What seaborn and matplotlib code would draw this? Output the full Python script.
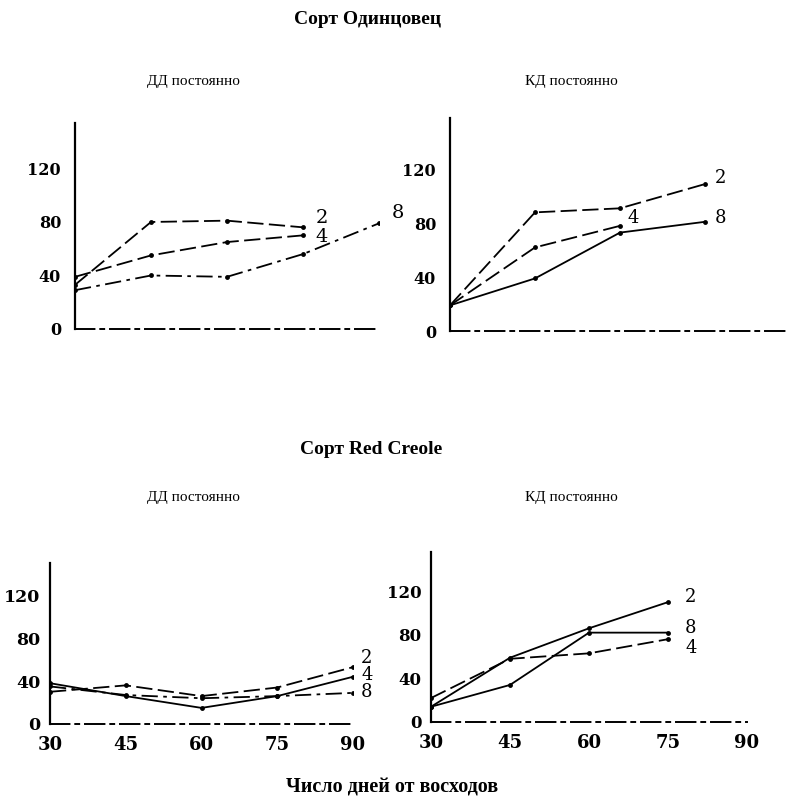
import matplotlib
matplotlib.use("Agg")
import matplotlib.pyplot as plt
import seaborn as sns
import pandas as pd
from matplotlib.ticker import MultipleLocator

# ---- data ----
days = [30, 45, 60, 75, 90]

odn_dd_2 = [33, 80, 81, 76]
odn_dd_4 = [39, 55, 65, 70]
odn_dd_8 = [29, 40, 39, 56, 79]

odn_kd_2 = [19, 88, 91, 109]
odn_kd_4 = [19, 62, 78]
odn_kd_8 = [19, 39, 73, 81]

rc_dd_2 = [30, 36, 26, 34, 53]
rc_dd_4 = [38, 26, 15, 26, 44]
rc_dd_8 = [35, 27, 24, 26, 29]

rc_kd_2 = [14, 59, 86, 110]
rc_kd_4 = [22, 58, 63, 76]
rc_kd_8 = [14, 34, 82, 82]

series_names = ["2", "4", "8"]
ytick_vals = [0, 40, 80, 120]

sns.set_theme(style="white")
plt.rcParams["font.family"] = ["Liberation Serif", "DejaVu Serif"]
plt.rcParams["text.color"] = "black"
plt.rcParams["xtick.color"] = "black"
plt.rcParams["ytick.color"] = "black"

TICKFONT = "DejaVu Serif"

W, H = 790, 797
fig = plt.figure(figsize=(W / 100, H / 100), dpi=100)


def make_ax(x0, x1, y_bottom, y_top, xlim, ylim):
    ax = fig.add_axes([x0 / W, 1 - y_bottom / H, (x1 - x0) / W, (y_bottom - y_top) / H])
    ax.set_xlim(*xlim)
    ax.set_ylim(*ylim)
    ax.set_facecolor("none")
    for s in ["top", "right"]:
        ax.spines[s].set_visible(False)
    ax.spines["left"].set_color("black")
    ax.spines["left"].set_linewidth(1.6)
    ax.spines["bottom"].set_color("black")
    ax.spines["bottom"].set_linewidth(1.4)
    ax.spines["bottom"].set_linestyle((0, (10, 3, 2, 3)))
    ax.set_yticks(ytick_vals)
    ax.yaxis.set_minor_locator(MultipleLocator(20))
    ax.set_xticks(days)
    ax.tick_params(axis="both", which="major", direction="inout", length=8,
                   width=1.2, color="black")
    ax.tick_params(axis="y", which="minor", direction="inout", length=4,
                   width=1.0, color="black")
    ax.set_xlabel("")
    ax.set_ylabel("")
    return ax


def draw(ax, vals, style, label, offset, fs):
    df = pd.DataFrame({"day": days[:len(vals)], "val": vals})
    sns.lineplot(data=df, x="day", y="val", ax=ax, color="black", linewidth=1.3,
                 linestyle=style, marker="o", markersize=3.5, markeredgewidth=0)
    ax.annotate(label, (df["day"].iloc[-1], df["val"].iloc[-1]),
                xytext=offset, textcoords="offset pixels", ha="center", va="center",
                fontsize=fs, color="black", family=TICKFONT, annotation_clip=False)
    ax.set_xlabel("")
    ax.set_ylabel("")


solid = "-"
dash = (0, (9, 3))
dashdot = (0, (9, 3, 2, 3))

# Panel 1: Одинцовец, ДД
ax1 = make_ax(75, 379, 329, 123, (30, 90), (0, 154))
draw(ax1, odn_dd_2, dash, "2", (19, 9), 14)
draw(ax1, odn_dd_4, dash, "4", (19, -2), 14)
draw(ax1, odn_dd_8, dashdot, "8", (19, 10), 14)
ax1.set_xticklabels([])

# Panel 2: Одинцовец, КД
ax2 = make_ax(450, 790, 331, 118, (30, 89.3), (0, 158))
draw(ax2, odn_kd_2, dash, "2", (16, 6), 13)
draw(ax2, odn_kd_4, dash, "4", (13, 8), 13)
draw(ax2, odn_kd_8, solid, "8", (16, 4), 13)
ax2.set_xticklabels([])

# Panel 3: Red Creole, ДД
ax3 = make_ax(50, 353, 724, 563, (30, 90), (0, 150))
draw(ax3, rc_dd_2, dash, "2", (14, 9), 13)
draw(ax3, rc_dd_4, solid, "4", (14, 2), 13)
draw(ax3, rc_dd_8, dashdot, "8", (14, 1), 13)

# Panel 4: Red Creole, КД
ax4 = make_ax(431, 747, 722, 552, (30, 90), (0, 156))
draw(ax4, rc_kd_2, solid, "2", (23, 5), 13)
draw(ax4, rc_kd_4, dash, "4", (23, -9), 13)
draw(ax4, rc_kd_8, solid, "8", (23, 5), 13)

for ax, fs, pad in ((ax1, 11.5, 6), (ax2, 11.5, 6), (ax3, 12.5, 3), (ax4, 12, 3)):
    ax.set_yticklabels([str(v) for v in ytick_vals], fontsize=fs, fontweight="bold",
                       family=TICKFONT)
    ax.tick_params(axis="y", pad=pad)
for ax in (ax3, ax4):
    ax.set_xticklabels([str(d) for d in days], fontsize=13, fontweight="bold",
                       family=TICKFONT)
    ax.tick_params(axis="x", pad=5)

# Texts
fig.text(368 / W, 1 - 20 / H, "Сорт Одинцовец", ha="center", va="center",
         fontsize=14, fontweight="bold")
fig.text(193 / W, 1 - 82 / H, "ДД постоянно", ha="center", va="center", fontsize=11)
fig.text(571 / W, 1 - 82 / H, "КД постоянно", ha="center", va="center", fontsize=11)
fig.text(371 / W, 1 - 450 / H, "Сорт Red Creole", ha="center", va="center",
         fontsize=14, fontweight="bold")
fig.text(193 / W, 1 - 497 / H, "ДД постоянно", ha="center", va="center", fontsize=11)
fig.text(571 / W, 1 - 497 / H, "КД постоянно", ha="center", va="center", fontsize=11)
fig.text(392 / W, 1 - 788 / H, "Число дней от восходов", ha="center", va="center",
         fontsize=14.5, fontweight="bold")

fig.savefig("out.png", dpi=100, facecolor="white")
